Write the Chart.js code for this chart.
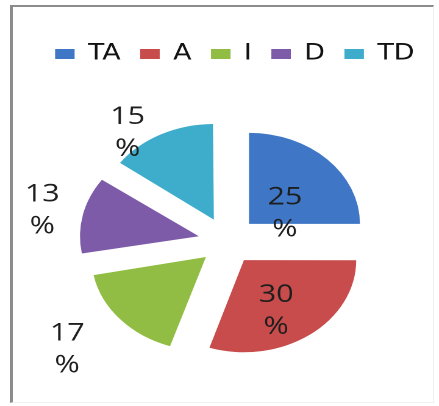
<!DOCTYPE html>
<html>
<head>
<meta charset="utf-8">
<script src="https://cdn.jsdelivr.net/npm/chart.js@4.4.1/dist/chart.umd.min.js"></script>
<style>
  html, body { margin: 0; padding: 0; background: #fff; }
  body { width: 439px; height: 406px; overflow: hidden; position: relative; }
  #frame {
    position: absolute; left: 10px; top: 5px; width: 420px; height: 395px;
    border-left: 3px solid #8c8c8c; border-top: 2px solid #8c8c8c;
    border-right: 1px solid #f0f0f0; border-bottom: 1px solid #f0f0f0;
  }
  #wrap {
    position: absolute; left: 0; top: 0; width: 360px; height: 430px;
    transform: scaleX(1.2194); transform-origin: 0 0;
  }
</style>
</head>
<body>
<div id="frame"></div>
<div id="wrap"><canvas id="myChart"></canvas></div>
<script>
const categories = ['TA', 'A', 'I', 'D', 'TD'];
const shares = [25, 30, 17, 13, 15];

const colors = ['#3f77c6', '#c84c4c', '#92bd45', '#7d5ba8', '#3eaccb'];
// how far each slice is pulled out (chart.js moves it offset/4 px)
const pullOut = [100, 92, 94, 96, 98];
// label placement: distance from centre and angle tweak in degrees
const labelDist = [55, 80, 170, 155, 136];
const labelShift = [14, 6, 2, -1, -10];

const pctLabels = {
    id: 'pctLabels',
    afterLayout(chart) {
        // legend sits a little right of / below where chart.js puts it
        chart.legend.left += 6;
        chart.legend.right += 6;
        chart.legend.top += 3;
        chart.legend.bottom += 3;
    },
    afterDatasetsDraw(chart) {
        const ctx = chart.ctx;
        const arcs = chart.getDatasetMeta(0).data;
        ctx.save();
        ctx.font = '25px "Open Sans"';
        ctx.fillStyle = '#1e1e1e';
        ctx.textAlign = 'center';
        ctx.textBaseline = 'middle';
        arcs.forEach((arc, i) => {
            const p = arc.getProps(['x', 'y', 'startAngle', 'endAngle'], true);
            const mid = (p.startAngle + p.endAngle) / 2 + labelShift[i] * Math.PI / 180;
            const x = p.x + Math.cos(mid) * labelDist[i];
            const y = p.y + Math.sin(mid) * labelDist[i];
            ctx.fillText(String(shares[i]), x, y - 16);
            ctx.fillText('%', x, y + 16);
        });
        ctx.restore();
    }
};

const ctx = document.querySelector('#myChart');

const graph = new Chart(ctx, {
    type: 'pie',
    data: {
        labels: categories,
        datasets: [{
            data: shares,
            backgroundColor: colors,
            borderWidth: 0,
            offset: pullOut,
            radius: 91
        }]
    },
    options: {
        responsive: true,
        maintainAspectRatio: false,
        animation: false,
        devicePixelRatio: 2,
        layout: {
            padding: { left: 13, right: 0, top: 24, bottom: 19 }
        },
        plugins: {
            tooltip: { enabled: false },
            legend: {
                position: 'top',
                labels: {
                    boxWidth: 16,
                    boxHeight: 10,
                    padding: 16,
                    color: '#111',
                    font: { family: 'DejaVu Sans', size: 22 }
                }
            }
        }
    },
    plugins: [pctLabels]
});
</script>
</body>
</html>
